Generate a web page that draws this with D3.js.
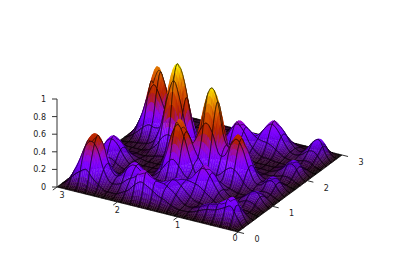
<!DOCTYPE html>
<html><head><meta charset="utf-8"><style>html,body{margin:0;padding:0;background:#fff}text{font-family:"DejaVu Sans";font-size:8px;fill:#222}</style>
<script src="https://cdn.jsdelivr.net/npm/d3@7"></script></head><body><svg id="c" width="398" height="264"></svg>
<script>
const xTicks=[0,1,2,3], yTicks=[0,1,2,3], zTicks=[0,0.2,0.4,0.6,0.8,1];
const gridStep=0.1;
// z (percent), one row per x = 0, 0.1 ... 3; columns are y = 0, 0.1 ... 3
const zRows=[
[0,0,0,0,0,0,0,0,0,0,0,0,0,0,0,0,0,0,0,0,0,0,0,0,0,0,0,0,0,0,0],
[0,6,12,10,5,2,1,2,5,6,5,3,3,5,6,5,2,1,3,5,6,5,2,1,2,5,6,8,5,2,0],
[0,12,28,24,14,5,3,5,11,15,12,6,6,11,17,13,6,3,6,12,18,14,6,3,6,10,16,22,18,7,0],
[0,10,25,21,12,4,3,6,11,14,11,7,6,10,15,11,6,3,6,12,16,12,6,3,6,10,15,19,15,6,0],
[0,8,20,17,9,3,2,4,7,8,7,4,4,6,8,6,4,2,4,7,8,7,4,2,4,6,8,10,8,4,0],
[0,7,16,14,8,3,2,2,3,4,3,3,5,8,9,8,5,3,3,4,4,4,3,2,3,4,5,4,3,2,0],
[0,6,15,12,7,3,2,2,2,2,2,5,11,20,24,20,11,5,3,2,2,2,2,3,4,6,6,6,4,2,0],
[0,4,12,10,6,4,3,5,6,6,4,8,20,37,45,37,20,8,4,3,2,2,2,4,8,13,16,13,8,3,0],
[0,3,7,6,4,4,8,13,16,13,8,9,24,45,56,45,24,9,4,3,2,2,3,6,13,23,28,23,13,4,0],
[0,2,4,4,3,7,13,23,28,23,13,11,20,37,47,40,22,9,3,3,2,2,3,7,16,28,35,28,16,5,0],
[0,2,3,3,5,9,18,29,35,28,16,8,13,25,34,34,23,10,4,3,3,4,7,11,17,25,29,23,13,4,0],
[0,2,4,6,10,14,20,26,29,23,13,8,11,23,39,46,38,19,8,3,4,8,14,18,20,19,18,13,8,3,0],
[0,3,8,13,17,20,21,20,18,13,9,8,14,36,68,84,68,36,13,5,6,14,24,31,26,18,10,7,4,2,0],
[0,5,14,18,22,24,20,14,11,11,11,15,22,44,80,98,78,42,15,5,7,16,30,37,30,16,7,3,2,2,0],
[0,6,18,22,22,20,16,10,9,14,24,33,33,43,64,80,61,32,12,4,6,14,24,30,24,14,6,2,2,2,0],
[0,8,24,23,18,13,9,6,10,23,44,56,49,38,39,41,32,17,7,3,4,8,14,16,14,8,4,2,2,2,0],
[0,10,30,26,16,9,5,5,11,29,55,69,57,34,21,16,12,7,5,3,3,4,6,7,6,4,3,2,2,2,0],
[0,11,34,29,17,11,6,5,10,23,44,55,44,23,11,6,4,3,4,5,4,3,2,2,2,2,2,2,2,2,0],
[0,9,27,26,21,16,12,8,8,13,23,29,23,13,6,3,4,8,13,16,13,8,4,2,2,2,2,2,2,2,0],
[0,6,16,21,25,26,20,11,6,6,9,11,9,6,3,3,8,18,34,43,34,18,8,3,2,2,2,2,2,2,0],
[0,4,10,17,26,30,24,14,6,3,3,4,3,2,2,5,13,34,64,84,64,34,13,5,2,2,2,2,2,2,0],
[0,2,5,11,20,24,20,11,5,2,2,2,2,2,2,6,16,41,84,100,84,41,16,6,2,2,2,2,2,2,0],
[0,2,4,8,13,14,11,7,4,2,2,2,2,2,2,5,13,34,64,84,65,36,15,7,3,2,2,2,2,2,0],
[0,2,5,9,12,12,8,4,2,2,2,3,2,2,2,3,7,18,33,43,37,27,18,12,6,3,2,2,2,2,0],
[0,4,13,21,25,20,11,5,3,4,5,6,5,4,3,2,4,7,13,19,26,33,33,28,16,6,3,2,2,2,0],
[0,6,24,42,50,38,20,8,5,7,12,14,12,7,4,2,2,3,6,14,26,50,63,50,26,11,4,2,2,2,0],
[0,10,35,50,56,41,21,9,7,12,21,26,21,12,5,3,2,2,4,12,32,62,80,62,32,12,4,2,2,2,0],
[0,9,29,43,47,32,17,7,6,13,25,31,25,13,5,2,2,2,3,9,25,48,62,48,25,9,3,2,2,2,0],
[0,7,19,25,25,17,9,4,4,11,20,25,20,11,4,2,2,2,2,5,14,25,31,25,14,5,2,2,2,1,0],
[0,3,7,9,9,6,3,2,2,4,7,9,7,4,2,1,1,1,1,2,5,9,11,9,5,2,1,1,1,1,0],
[0,0,0,0,0,0,0,0,0,0,0,0,0,0,0,0,0,0,0,0,0,0,0,0,0,0,0,0,0,0,0]
];
const C={ox:238,oy:232};
const sxX=d3.scaleLinear().domain([0,3]).range([0,57-C.ox]);
const syX=d3.scaleLinear().domain([0,3]).range([0,187-C.oy]);
const sxY=d3.scaleLinear().domain([0,3]).range([0,342-C.ox]);
const syY=d3.scaleLinear().domain([0,3]).range([0,155-C.oy]);
const syZ=d3.scaleLinear().domain([0,1]).range([0,-88]);
const P=(x,y,z)=>[C.ox+sxX(x)+sxY(y), C.oy+syX(x)+syY(y)+syZ(z)];
const clamp01=t=>Math.max(0,Math.min(1,t));
const pal=t=>`rgb(${Math.round(255*Math.sqrt(t))},${Math.round(255*t*t*t)},${Math.round(255*Math.max(0,Math.sin(2*Math.PI*t)))})`;
const n=zRows.length, m=zRows[0].length;
const MESH=20, SUB=5; // mesh cells per side, and facets per mesh cell side
// drawing only: rounds the surface between the grid values, as a smooth line curve would
const cr=(a,b,c,d,t)=>0.5*(2*b+(c-a)*t+(2*a-5*b+4*c-d)*t*t+(3*b-a-3*c+d)*t*t*t);
const at=(i,j)=>zRows[Math.max(0,Math.min(n-1,i))][Math.max(0,Math.min(m-1,j))];
const rowAt=(i,j,v)=>cr(at(i,j-1),at(i,j),at(i,j+1),at(i,j+2),v);
function zOf(x,y){
  const fx=Math.min(x/gridStep,n-1.0001), fy=Math.min(y/gridStep,m-1.0001);
  const i=Math.floor(fx), j=Math.floor(fy), u=fx-i, v=fy-j;
  return Math.max(0,cr(rowAt(i-1,j,v),rowAt(i,j,v),rowAt(i+1,j,v),rowAt(i+2,j,v),u))/100;
}
const svg=d3.select('#c');
const step=3/MESH;
const cells=[];
for(let i=MESH-1;i>=0;i--)for(let j=MESH-1;j>=0;j--){
  const pts=[];
  for(let a=0;a<=SUB;a++){pts[a]=[];for(let b=0;b<=SUB;b++){
    const x=(i+a/SUB)*step,y=(j+b/SUB)*step;pts[a][b]={x,y,z:zOf(x,y)};}}
  cells.push(pts);
}
const line=d3.line().x(d=>P(d.x,d.y,d.z)[0]).y(d=>P(d.x,d.y,d.z)[1]);
const cg=svg.append('g').selectAll('g').data(cells).join('g');
cg.each(function(pts){
  const me=d3.select(this);
  for(let a=SUB-1;a>=0;a--)for(let b=SUB-1;b>=0;b--){
    const q=[pts[a][b],pts[a+1][b],pts[a+1][b+1],pts[a][b+1]];
    const col=pal(clamp01(d3.mean(q,d=>d.z)));
    me.append('path').attr('d',line(q)+'Z').attr('fill',col).attr('stroke',col).attr('stroke-width',0.3);
  }
  const ring=[];
  for(let b=0;b<=SUB;b++)ring.push(pts[0][b]);
  for(let a=1;a<=SUB;a++)ring.push(pts[a][SUB]);
  for(let b=SUB-1;b>=0;b--)ring.push(pts[SUB][b]);
  for(let a=SUB-1;a>=0;a--)ring.push(pts[a][0]);
  me.append('path').attr('d',line(ring)+'Z').attr('fill','none').attr('stroke','#000').attr('stroke-width',0.7).attr('stroke-opacity',0.8);
});
const ax=svg.append('g').attr('stroke','#333').attr('stroke-width',1).attr('fill','none');
const zb=P(3,0,0), zt=P(3,0,1);
ax.append('line').attr('x1',zb[0]).attr('y1',zb[1]).attr('x2',zt[0]).attr('y2',zt[1]);
zTicks.forEach(z=>{const p=P(3,0,z);
 ax.append('line').attr('x1',p[0]-5).attr('y1',p[1]).attr('x2',p[0]).attr('y2',p[1]);
 svg.append('text').attr('x',p[0]-11).attr('y',p[1]+3).attr('text-anchor','end').text(d3.format('~g')(z));});
xTicks.forEach(x=>{const a=P(x,0,0),b=P(x,-0.12,0);
 ax.append('line').attr('x1',a[0]).attr('y1',a[1]).attr('x2',b[0]).attr('y2',b[1]);
 svg.append('text').attr('x',a[0]+(x===3?5:0)-(x===0?3:0)).attr('y',a[1]+(x===0?9:11)).attr('text-anchor','middle').text(x);});
yTicks.forEach(y=>{const a=P(0,y,0),b=P(-0.1,y,0);
 ax.append('line').attr('x1',a[0]).attr('y1',a[1]).attr('x2',b[0]).attr('y2',b[1]);
 svg.append('text').attr('x',a[0]+19).attr('y',a[1]+10).attr('text-anchor','middle').text(y);});
</script></body></html>
